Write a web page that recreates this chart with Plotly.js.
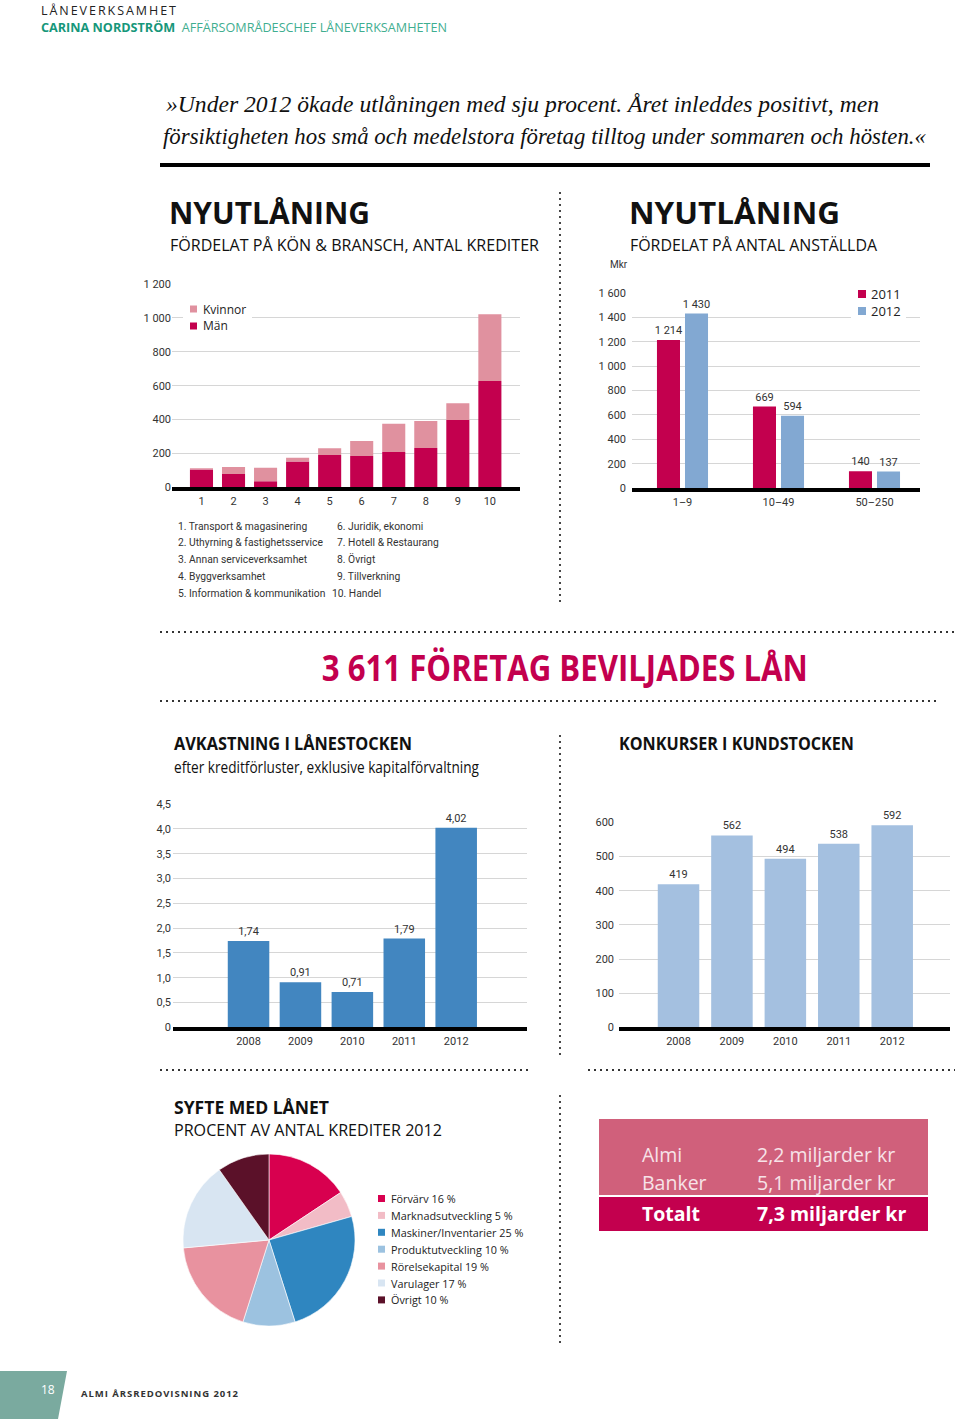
<!DOCTYPE html>
<html>
<head>
<meta charset="utf-8">
<script src="https://cdn.plot.ly/plotly-3.0.1.min.js"></script>
<style>
html,body{margin:0;padding:0;background:#fff;}
#chart{width:960px;height:1419px;}
</style>
</head>
<body>
<div id="chart"></div>
<script>
// ---------------- DATA ----------------
const sectorCodes = ['1','2','3','4','5','6','7','8','9','10'];
const sectorNames = ['Transport & magasinering','Uthyrning & fastighetsservice','Annan serviceverksamhet','Byggverksamhet','Information & kommunikation','Juridik, ekonomi','Hotell & Restaurang','Övrigt','Tillverkning','Handel'];
const manCredits = [105, 79, 35, 153, 191, 185, 209, 232, 398, 628];
const womenCredits = [7, 41, 81, 22, 39, 89, 167, 160, 98, 394];
const genderNames = ['Kvinnor', 'Män'];

const sizeClasses = ['1–9', '10–49', '50–250'];
const lending2011 = [1214, 669, 140];
const lending2012 = [1430, 594, 137];
const lendingYears = ['2011', '2012'];

const returnYears = ['2008', '2009', '2010', '2011', '2012'];
const returnValues = [1.74, 0.91, 0.71, 1.79, 4.02];

const bankruptcyYears = ['2008', '2009', '2010', '2011', '2012'];
const bankruptcyValues = [419, 562, 494, 538, 592];

const purposeLabels = ['Förvärv', 'Marknadsutveckling', 'Maskiner/Inventarier', 'Produktutveckling', 'Rörelsekapital', 'Varulager', 'Övrigt'];
const purposeShares = [16, 5, 25, 10, 19, 17, 10];

const fundingSources = ['Almi', 'Banker', 'Totalt'];
const fundingBillions = [2.2, 5.1, 7.3];

const companiesGranted = 3611;

const creditTicks = [0, 200, 400, 600, 800, 1000, 1200];
const lendingTicks = [0, 200, 400, 600, 800, 1000, 1200, 1400, 1600];
const returnTicks = [0, 0.5, 1.0, 1.5, 2.0, 2.5, 3.0, 3.5, 4.0, 4.5];
const bankruptcyTicks = [0, 100, 200, 300, 400, 500, 600];

// ---------------- HELPERS ----------------
const W = 960, H = 1419;
const px = x => x / W;
const py = y => 1 - y / H;
const thou = v => String(v).replace(/\B(?=(\d{3})+(?!\d))/g, ' ');
const dec1 = v => (v === 0 ? '0' : v.toFixed(1).replace('.', ','));
const dec2 = v => v.toFixed(2).replace('.', ',');

const FC = 'Roboto, "Liberation Sans", sans-serif';
const FS = '"Open Sans", "Noto Sans", sans-serif';
const FSER = '"Liberation Serif", "DejaVu Serif", serif';

const C_RED = '#c3004e';
const C_PINK = '#e0919f';
const C_BLUE12 = '#82a8d2';
const C_BLUE = '#4286c0';
const C_LBLUE = '#a4c0e0';
const GRID = '#d6d6d6';
const TXT = '#2a2a2a';

const purposeColors = ['#d8004f', '#f2bcc6', '#2f86c0', '#9cc2e0', '#e8929f', '#d8e5f2', '#5b1129'];

const shapes = [];
const annotations = [];
const fits = [];
function line(x0, y0, x1, y1, color, width, dash) {
  shapes.push({type: 'line', xref: 'paper', yref: 'paper', x0: px(x0), y0: py(y0), x1: px(x1), y1: py(y1),
    line: {color: color, width: width, dash: dash || 'solid'}, layer: 'above'});
}
function rect(x0, y0, x1, y1, fill) {
  shapes.push({type: 'rect', xref: 'paper', yref: 'paper', x0: px(x0), y0: py(y1), x1: px(x1), y1: py(y0),
    fillcolor: fill, line: {width: 0}, layer: 'above'});
}
function text(t, x, y, o) {
  o = o || {};
  annotations.push({text: t, xref: 'paper', yref: 'paper', x: px(x), y: py(y),
    xanchor: o.anchor || 'left', yanchor: 'middle', align: o.align || 'left', showarrow: false,
    borderpad: 0,
    font: {family: o.family || FS, size: o.size || 12, color: o.color || TXT}});
  if (o.tw) fits.push({i: annotations.length - 1, w: o.tw, adj: o.adj || 'spacingAndGlyphs'});
}
const DOT = '2px,4px';

// ---------------- PAGE TEXT ----------------
text('LÅNEVERKSAMHET', 40, 10, {size: 12.5, color: '#222', tw: 135, adj: 'spacing'});
text('<b>CARINA NORDSTRÖM</b>  <span style="color:#3fae90">AFFÄRSOMRÅDESCHEF LÅNEVERKSAMHETEN</span>', 40, 27, {size: 12.8, color: '#16977a', tw: 406});

text('<i>»Under 2012 ökade utlåningen med sju procent. Året inleddes positivt, men</i>', 165, 104, {size: 23.8, family: FSER, color: '#111', tw: 713});
text('<i>försiktigheten hos små och medelstora företag tilltog under sommaren och hösten.«</i>', 162, 136, {size: 23.8, family: FSER, color: '#111', tw: 763});
line(160, 165, 930, 165, '#000', 4);

// headings top
text('<b>NYUTLÅNING</b>', 168, 212, {size: 31, color: '#111', tw: 201});
text('FÖRDELAT PÅ KÖN & BRANSCH, ANTAL KREDITER', 169, 244, {size: 17, color: '#111', tw: 369});
text('<b>NYUTLÅNING</b>', 628, 212, {size: 31, color: '#111', tw: 211});
text('FÖRDELAT PÅ ANTAL ANSTÄLLDA', 629, 244, {size: 17, color: '#111', tw: 247});
text('Mkr', 609, 265, {size: 10, family: FC, color: '#333'});

// chart 1 legend
rect(183, 300, 252, 335, '#ffffff');
const genderColors = [C_PINK, C_RED];
genderNames.forEach((g, i) => {
  const yc = 309 + i * 17;
  rect(190, yc - 3.5, 197, yc + 3.5, genderColors[i]);
  text(g, 202, yc, {size: 12, color: '#222'});
});

// chart 2 legend
rect(851, 284, 906, 320, '#ffffff');
const yearColors = [C_RED, C_BLUE12];
lendingYears.forEach((yr, i) => {
  const yc = 294 + i * 17;
  rect(858, yc - 4, 866, yc + 4, yearColors[i]);
  text(yr, 870, yc, {size: 13, color: '#222'});
});

// sector list
sectorNames.forEach((n, i) => {
  const col = i < 5 ? 0 : 1;
  const row = i % 5;
  const yc = 526 + row * 16.8;
  const code = sectorCodes[i];
  const x = col === 0 ? 177 : (code.length > 1 ? 331 : 336);
  text(code + '. ' + n, x, yc, {size: 10.3, family: FC, color: '#333'});
});

// dotted dividers
line(560, 192, 560, 602, '#333', 1.8, DOT);
line(160, 632, 955, 632, '#333', 1.8, DOT);
line(160, 701, 940, 701, '#333', 1.8, DOT);
line(560, 735, 560, 1057, '#333', 1.8, DOT);
line(160, 1070, 530, 1070, '#333', 1.8, DOT);
line(588, 1070, 955, 1070, '#333', 1.8, DOT);
line(560, 1095, 560, 1347, '#333', 1.8, DOT);

// big headline
text('<b>' + thou(companiesGranted) + ' FÖRETAG BEVILJADES LÅN</b>', 565, 668, {size: 36, color: '#c3004e', anchor: 'center', align: 'center', tw: 486});

// middle headings
text('<b>AVKASTNING I LÅNESTOCKEN</b>', 173, 742, {size: 18.5, color: '#111', tw: 238});
text('efter kreditförluster, exklusive kapitalförvaltning', 173, 766, {size: 16.5, color: '#111', tw: 305});
text('<b>KONKURSER I KUNDSTOCKEN</b>', 618, 742, {size: 18.5, color: '#111', tw: 235});

// pie headings
text('<b>SYFTE MED LÅNET</b>', 173, 1107, {size: 18, color: '#111', tw: 155});
text('PROCENT AV ANTAL KREDITER 2012', 173, 1129, {size: 17, color: '#111', tw: 268});

// pie legend
purposeLabels.forEach((l, i) => {
  const yc = 1198.5 + i * 16.9;
  rect(378, yc - 3.5, 385, yc + 3.5, purposeColors[i]);
  text(l + ' ' + purposeShares[i] + ' %', 390, yc, {size: 10.8, color: '#222'});
});

// funding box
rect(599, 1119, 928, 1195, '#d0607b');
rect(599, 1197, 928, 1231, '#c3004e');
const fundY = [1154, 1182, 1213];
fundingSources.forEach((s, i) => {
  const bold = i === 2;
  const col = bold ? '#ffffff' : '#f7e3e8';
  const amt = fundingBillions[i].toFixed(1).replace('.', ',') + ' miljarder kr';
  text(bold ? '<b>' + s + '</b>' : s, 641, fundY[i], {size: 19.5, color: col});
  text(bold ? '<b>' + amt + '</b>' : amt, 756, fundY[i], {size: 19.5, color: col});
});

// footer
shapes.push({type: 'path', xref: 'paper', yref: 'paper',
  path: 'M' + px(0) + ',' + py(1371) + ' L' + px(67) + ',' + py(1371) + ' L' + px(58) + ',' + py(1419) + ' L' + px(0) + ',' + py(1419) + ' Z',
  fillcolor: '#7aaa9f', line: {width: 0}, layer: 'above'});
text('18', 40, 1389, {size: 12, color: '#ffffff'});
text('<b>ALMI ÅRSREDOVISNING 2012</b>', 80, 1393, {size: 9.5, color: '#333', tw: 157, adj: 'spacing'});

// ---------------- TRACES ----------------
const traces = [
  {type: 'bar', name: genderNames[1], x: sectorCodes, y: manCredits, xaxis: 'x', yaxis: 'y',
    marker: {color: C_RED}, width: 0.72, offset: -0.36, hoverinfo: 'x+y+name'},
  {type: 'bar', name: genderNames[0], x: sectorCodes, y: womenCredits, base: manCredits, xaxis: 'x', yaxis: 'y',
    marker: {color: C_PINK}, width: 0.72, offset: -0.36, hoverinfo: 'x+y+name'},

  {type: 'bar', name: lendingYears[0], x: sizeClasses, y: lending2011, xaxis: 'x2', yaxis: 'y2',
    marker: {color: C_RED}, width: 0.24, offset: -0.266,
    text: lending2011.map(thou), textposition: 'outside', cliponaxis: false, constraintext: 'none',
    textfont: {family: FC, size: 11, color: '#333'}},
  {type: 'bar', name: lendingYears[1], x: sizeClasses, y: lending2012, xaxis: 'x2', yaxis: 'y2',
    marker: {color: C_BLUE12}, width: 0.24, offset: 0.026,
    text: lending2012.map(thou), textposition: 'outside', cliponaxis: false, constraintext: 'none',
    textfont: {family: FC, size: 11, color: '#333'}},

  {type: 'bar', name: 'Avkastning', x: returnYears, y: returnValues, xaxis: 'x3', yaxis: 'y3',
    marker: {color: C_BLUE}, width: 0.8, offset: -0.4,
    text: returnValues.map(dec2), textposition: 'outside', cliponaxis: false, constraintext: 'none',
    textfont: {family: FC, size: 11, color: '#333'}},

  {type: 'bar', name: 'Konkurser', x: bankruptcyYears, y: bankruptcyValues, xaxis: 'x4', yaxis: 'y4',
    marker: {color: C_LBLUE}, width: 0.777, offset: -0.3885,
    text: bankruptcyValues.map(String), textposition: 'outside', cliponaxis: false, constraintext: 'none',
    textfont: {family: FC, size: 11, color: '#333'}},

  {type: 'pie', labels: purposeLabels, values: purposeShares, sort: false, direction: 'clockwise', rotation: 0,
    marker: {colors: purposeColors, line: {color: '#ffffff', width: 0.6}},
    textinfo: 'none', hoverinfo: 'label+value',
    domain: {x: [px(183), px(355)], y: [py(1326), py(1154)]}}
];

// ---------------- AXES ----------------
const tickFont = {family: FC, size: 11, color: '#333'};
function xax(d0, d1, anchor, range) {
  return {domain: [px(d0), px(d1)], anchor: anchor, type: 'category', range: range, showgrid: false,
    showline: true, linewidth: 4, linecolor: '#000', ticks: '', tickfont: tickFont, fixedrange: true,
    zeroline: false};
}
function yax(top, bottom, anchor, range, ticks, labels, standoff) {
  return {domain: [py(bottom), py(top)], anchor: anchor, range: range, tickmode: 'array', tickvals: ticks,
    ticktext: labels, showgrid: true, gridcolor: GRID, gridwidth: 1, zeroline: false, showline: false,
    ticks: '', tickfont: tickFont, fixedrange: true, ticklabelstandoff: standoff || 0};
}

const layout = {
  width: W, height: H, margin: {l: 0, r: 0, t: 0, b: 0},
  paper_bgcolor: '#ffffff', plot_bgcolor: 'rgba(0,0,0,0)',
  showlegend: false, barmode: 'group', separators: ', ',
  font: {family: FS, color: '#333'},
  xaxis: xax(172, 520, 'y', [-0.92, 9.94]),
  yaxis: yax(284, 487.3, 'x', [0, 1200.5], creditTicks, creditTicks.map(thou), 0),
  xaxis2: xax(632, 920, 'y2', [-0.526, 2.474]),
  yaxis2: yax(292.7, 488.3, 'x2', [0, 1600.5], lendingTicks, lendingTicks.map(thou), 5),
  xaxis3: xax(173, 527, 'y3', [-1.455, 5.364]),
  yaxis3: yax(804, 1027.3, 'x3', [0, 4.501], returnTicks, returnTicks.map(dec1), 1),
  xaxis4: xax(619, 950, 'y4', [-1.114, 5.082]),
  yaxis4: yax(822.3, 1027.3, 'x4', [0, 600.5], bankruptcyTicks, bankruptcyTicks.map(String), 4),
  shapes: shapes,
  annotations: annotations
};

Plotly.newPlot('chart', traces, layout, {displayModeBar: false, staticPlot: true}).then(() => {
  fits.forEach(f => {
    const t = document.querySelector('g.annotation[data-index="' + f.i + '"] text');
    if (t) {
      t.setAttribute('textLength', f.w);
      t.setAttribute('lengthAdjust', f.adj);
    }
  });
});
</script>
</body>
</html>
